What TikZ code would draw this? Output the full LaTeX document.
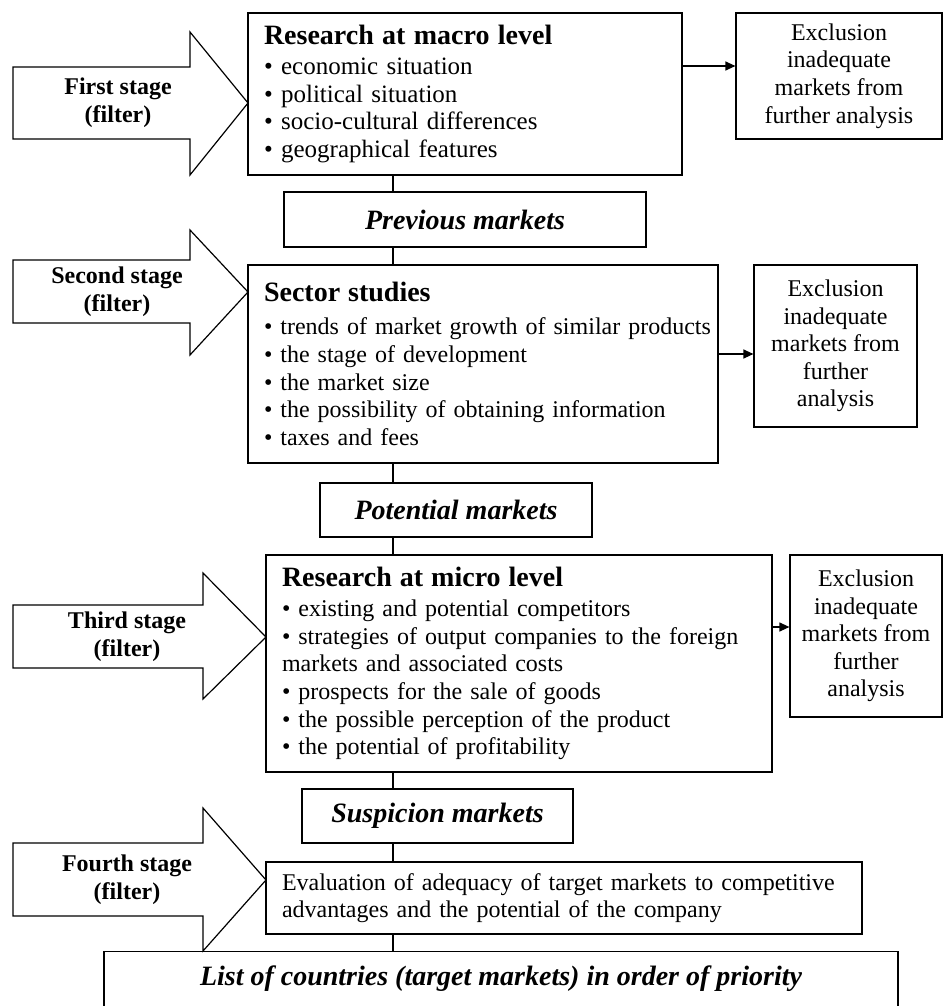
\documentclass[tikz,border=0pt]{standalone}
\usepackage{fontspec}
\setmainfont{Liberation Serif}
\usetikzlibrary{arrows.meta,positioning}
\newcommand\boxtitle[1]{{\fontsize{14}{16}\selectfont\bfseries #1}}

\begin{document}
\begin{tikzpicture}[
  x=0.5pt, y=-0.5pt,
  line width=0.6pt,
  every node/.style={font=\fontsize{12}{13.8}\selectfont, inner sep=0pt},
  studybox/.style={draw, rectangle, inner xsep=8pt, align=left},
  marketbox/.style={draw, rectangle, font=\fontsize{14}{16}\selectfont\bfseries\itshape},
  exclbox/.style={draw, rectangle, align=center},
  stagelabel/.style={align=center, font=\fontsize{12}{14}\selectfont\bfseries},
  excl/.style={-{Triangle[length=5pt,width=4.5pt]}}
]
\useasboundingbox (0,0) rectangle (943,1006);
\clip (0,0) rectangle (943,1006);

% stage arrows
\draw[line join=miter] (13,67) -- (190,67) -- (190,32) -- (248,103) -- (190,175) -- (190,139) -- (13,139) -- cycle;
\draw[line join=miter] (13,260) -- (190,260) -- (190,230) -- (248,292) -- (190,355) -- (190,323) -- (13,323) -- cycle;
\draw[line join=miter] (13,605) -- (203,605) -- (203,573) -- (266,637) -- (203,699) -- (203,668) -- (13,668) -- cycle;
\draw[line join=miter] (13,843) -- (203,843) -- (203,808) -- (266,880) -- (203,951) -- (203,916) -- (13,916) -- cycle;
\node[stagelabel] (st1) at (118,103) {First stage\\(filter)};
\node[stagelabel] (st2) at (117,292) {Second stage\\(filter)};
\node[stagelabel] (st3) at (127,637) {Third stage\\(filter)};
\node[stagelabel] (st4) at (127,880) {Fourth stage\\(filter)};

% studies
\node[studybox, minimum width=217pt, minimum height=81pt, text width=201pt,
      font=\fontsize{12.5}{13.8}\selectfont] (macro) at (465,94)
  {\boxtitle{Research at macro level}\\[1.2pt]
   • economic situation\\
   • political situation\\
   • socio-cultural differences\\
   • geographical features};
\node[studybox, minimum width=235pt, minimum height=99pt, text width=219pt] (sector) at (483,364)
  {\boxtitle{Sector studies}\\[2.7pt]
   \mbox{• trends of market growth of similar products}\\
   • the stage of development\\
   • the market size\\
   • the possibility of obtaining information\\
   • taxes and fees};
\node[studybox, minimum width=253pt, minimum height=108.5pt, text width=237pt] (micro) at (519,663.5)
  {\boxtitle{Research at micro level}\\[1.2pt]
   • existing and potential competitors\\
   • strategies of output companies to the foreign\\
   markets and associated costs\\
   • prospects for the sale of goods\\
   • the possible perception of the product\\
   • the potential of profitability};
\node[studybox, minimum width=298pt, minimum height=36pt, text width=282pt] (eval) at (564,898)
  {Evaluation of adequacy of target markets to competitive\\
   advantages and the potential of the company};

% markets
\node[marketbox, minimum width=181pt, minimum height=27.5pt] (prev) at (465,219.5) {Previous markets};
\node[marketbox, minimum width=136pt, minimum height=27pt] (pot) at (456,510) {Potential markets};
\node[marketbox, minimum width=135.5pt, minimum height=27pt] (susp) at (437.5,816) {Suspicion markets};
\node[marketbox, anchor=north, minimum width=397pt, inner ysep=4pt, text height=13pt, text depth=40pt] (list) at (501,951)
  {List of countries (target markets) in order of priority};

% exclusions
\node[exclbox, minimum width=103pt, minimum height=63pt] (excl1) at (839,76)
  {Exclusion\\inadequate\\markets from\\further analysis};
\node[exclbox, minimum width=81.5pt, minimum height=81pt] (excl2) at (835.5,346)
  {Exclusion\\inadequate\\markets from\\further\\analysis};
\node[exclbox, minimum width=76pt, minimum height=81pt] (excl3) at (866,636)
  {Exclusion\\inadequate\\markets from\\further\\analysis};

% connectors
\coordinate (spine) at (393,0);
\foreach \a/\b in {macro/prev, prev/sector, sector/pot, pot/micro, micro/susp, susp/eval, eval/list}
  \draw (spine |- \a.south) -- (spine |- \b.north);
\coordinate (e1) at ([yshift=5pt]excl1.west);
\coordinate (e2) at ([yshift=-4pt]excl2.west);
\coordinate (e3) at ([yshift=4.5pt]excl3.west);
\draw[excl] (e1 -| macro.east) -- (e1);
\draw[excl] (e2 -| sector.east) -- (e2);
\draw[excl] (e3 -| micro.east) -- (e3);
\end{tikzpicture}
\end{document}
